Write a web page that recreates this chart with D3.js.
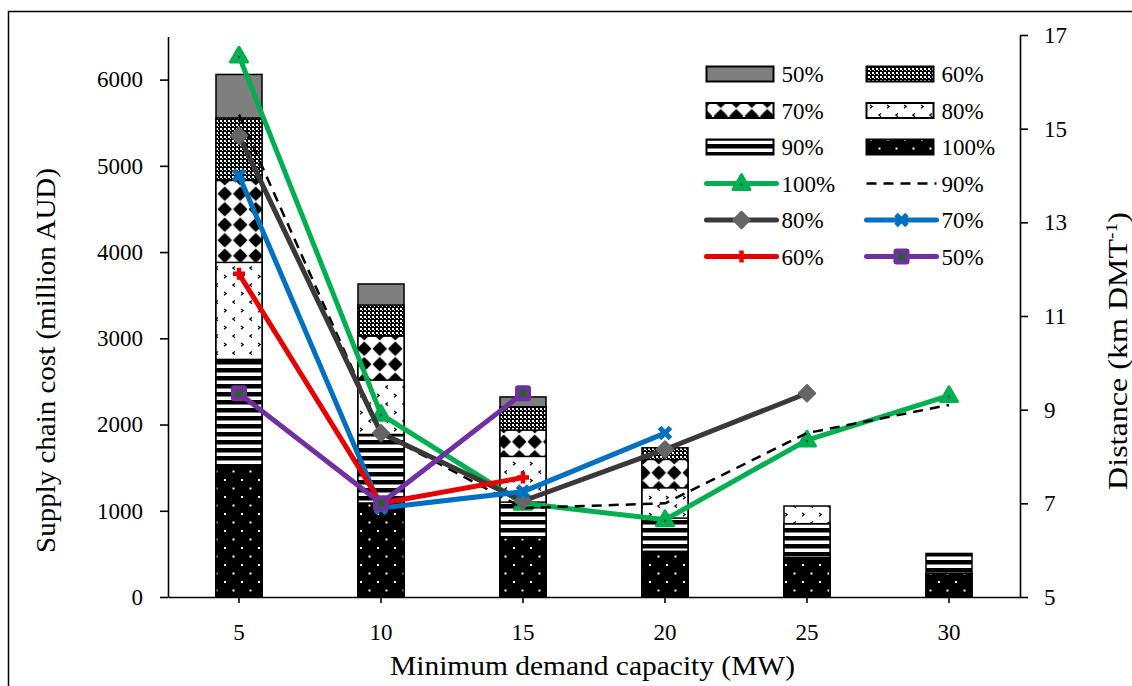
<!DOCTYPE html>
<html><head><meta charset="utf-8">
<script src="https://cdn.jsdelivr.net/npm/d3@7"></script>
<style>
body{margin:0;background:#fff}
svg{display:block}
text{font-family:"Liberation Serif","Times New Roman",serif;fill:#000}
</style>
</head><body>
<svg id="c" width="1132" height="686"></svg>
<script>
// ---- data ----
const capacities = [5, 10, 15, 20, 25, 30];
const scenarios = ["50%", "60%", "70%", "80%", "90%", "100%"];
// supply chain cost (million AUD), top of each scenario bar
const cost50  = [6060, 3630, 2320, null, null, null];
const cost60  = [5555, 3385, 2205, 1730, null, null];
const cost70  = [4830, 3025, 1935, 1595, null, null];
const cost80  = [3880, 2515, 1630, 1265, 1055, null];
const cost90  = [2755, 1885, 1100, 915, 850, 505];
const cost100 = [1490, 1090, 685, 530, 455, 275];
// distance (km DMT-1)
const dist100 = [16.55, 8.9, 7.0, 6.65, 8.35, 9.3];
const dist90  = [15.3, 8.5, 6.9, 7.0, 8.5, 9.1];
const dist80  = [14.85, 8.5, 7.05, 8.15, 9.35, null];
const dist70  = [14.0, 6.9, 7.25, 8.5, null, null];
const dist60  = [11.9, 7.0, 7.55, null, null, null];
const dist50  = [9.35, 7.0, 9.35, null, null, null];
const costTicks = [0, 1000, 2000, 3000, 4000, 5000, 6000];
const distTicks = [5, 7, 9, 11, 13, 15, 17];
const xTitle = "Minimum demand capacity (MW)";
const yTitle = "Supply chain cost (million AUD)";

const svg = d3.select("#c");
const W = 1132, H = 686;
const FONT = "Liberation Serif";

// ---- patterns ----
const defs = svg.append("defs");
function pat(id, w, h) {
  return defs.append("pattern").attr("id", id).attr("patternUnits", "userSpaceOnUse")
    .attr("width", w).attr("height", h);
}
// 60%: dense checker
let p = pat("p60", 4, 4);
p.append("rect").attr("width", 4).attr("height", 4).attr("fill", "#000");
p.append("rect").attr("x", 0).attr("y", 0).attr("width", 2).attr("height", 2).attr("fill", "#fff");
p.append("rect").attr("x", 2).attr("y", 2).attr("width", 1).attr("height", 1).attr("fill", "#fff");
// 70%: black blobs on white
p = pat("p70", 15.5, 15.5);
p.append("rect").attr("width", 15.5).attr("height", 15.5).attr("fill", "#fff");
p.append("circle").attr("cx", 7.75).attr("cy", 7.75).attr("r", 5.2).attr("fill", "#000");
p.append("path").attr("d", "M7.75,0.5L15,7.75L7.75,15L0.5,7.75Z").attr("fill", "#000");
// 80%: small marks on white
p = pat("p80", 17, 17);
p.append("rect").attr("width", 17).attr("height", 17).attr("fill", "#fff");
p.append("path").attr("d", "M3,3l2.2,1.6l-2.2,1.6").attr("fill", "none").attr("stroke", "#000").attr("stroke-width", 1.2);
p.append("path").attr("d", "M14,11.5l-2.2,1.6l2.2,1.6").attr("fill", "none").attr("stroke", "#000").attr("stroke-width", 1.2);
// 90%: horizontal stripes
p = pat("p90", 8, 8);
p.append("rect").attr("width", 8).attr("height", 8).attr("fill", "#fff");
p.append("rect").attr("y", 0).attr("width", 8).attr("height", 4.5).attr("fill", "#000");
// 100%: black with white dots
p = pat("p100", 17, 17);
p.append("rect").attr("width", 17).attr("height", 17).attr("fill", "#000");
p.append("rect").attr("x", 3).attr("y", 3).attr("width", 2).attr("height", 2).attr("fill", "#fff");
p.append("rect").attr("x", 11.5).attr("y", 11.5).attr("width", 2).attr("height", 2).attr("fill", "#fff");

const barFills = {"50%": "#7f7f7f", "60%": "url(#p60)", "70%": "url(#p70)", "80%": "url(#p80)", "90%": "url(#p90)", "100%": "url(#p100)"};
const costSeries = {"50%": cost50, "60%": cost60, "70%": cost70, "80%": cost80, "90%": cost90, "100%": cost100};

// ---- frame ----
svg.append("rect").attr("x", 8.5).attr("y", 11.5).attr("width", W + 20).attr("height", H + 20)
  .attr("fill", "none").attr("stroke", "#000").attr("stroke-width", 1.5);

// ---- scales ----
const x = d3.scaleBand().domain(capacities).range([168, 1020]).paddingInner(0.676).paddingOuter(0.338);
const cx = c => x(c) + x.bandwidth() / 2;
const yL = d3.scaleLinear().domain([0, 6500]).range([597, 36.5]);
const yR = d3.scaleLinear().domain([5, 17]).range([597, 35]);

// ---- bars ----
const gBars = svg.append("g");
scenarios.forEach(s => {
  const vals = costSeries[s];
  gBars.selectAll(null).data(capacities.map((c, i) => ({c, v: vals[i]})).filter(d => d.v != null))
    .enter().append("rect")
    .attr("x", d => x(d.c)).attr("y", d => yL(d.v))
    .attr("width", x.bandwidth()).attr("height", d => yL(0) - yL(d.v))
    .attr("fill", barFills[s]).attr("stroke", "#000").attr("stroke-width", 1.5);
});

// ---- axes ----
function styleAxis(g) {
  g.attr("font-family", FONT).attr("font-size", 23);
  g.selectAll("path,line").attr("stroke", "#000").attr("stroke-width", 1.6);
  g.selectAll("text").attr("font-size", 23).attr("font-family", FONT).attr("fill", "#000");
}
const fmt = d3.format("d");
svg.append("g").attr("transform", "translate(0,597)")
  .call(d3.axisBottom(x).tickSize(6).tickSizeOuter(0).tickPadding(21)).call(styleAxis);
svg.append("g").attr("transform", "translate(168,0)")
  .call(d3.axisLeft(yL).tickValues(costTicks).tickFormat(fmt).tickSize(8).tickSizeOuter(0).tickPadding(17)).call(styleAxis);
svg.append("g").attr("transform", "translate(1020,0)")
  .call(d3.axisRight(yR).tickValues(distTicks).tickFormat(fmt).tickSize(8).tickSizeOuter(0).tickPadding(16)).call(styleAxis);

// ---- markers ----
function marker(g, type, px, py) {
  const m = g.append("g").attr("transform", `translate(${px},${py})`);
  if (type === "tri") {
    m.append("path").attr("d", d3.symbol(d3.symbolTriangle, 125)()).attr("transform", "translate(0,1)")
      .attr("fill", "#00b050").attr("stroke", "#00b050").attr("stroke-width", 3).attr("stroke-linejoin", "round");
    m.append("rect").attr("x", -1).attr("y", 0).attr("width", 2).attr("height", 2).attr("fill", "#1f3a7a");
  } else if (type === "dia") {
    m.append("rect").attr("x", -5.8).attr("y", -5.8).attr("width", 11.6).attr("height", 11.6).attr("transform", "rotate(45)")
      .attr("fill", "#656565").attr("stroke", "#656565").attr("stroke-width", 2).attr("stroke-linejoin", "round");
  } else if (type === "x") {
    m.append("path").attr("d", "M-5.5,-5.5L5.5,5.5M-5.5,5.5L5.5,-5.5").attr("stroke", "#0070c0").attr("stroke-width", 5).attr("fill", "none");
  } else if (type === "plus") {
    m.append("path").attr("d", "M-6,0L6,0M0,-6L0,6").attr("stroke", "#e60000").attr("stroke-width", 4.5).attr("fill", "none");
  } else if (type === "sq") {
    m.append("rect").attr("x", -8).attr("y", -8).attr("width", 16).attr("height", 16).attr("rx", 3)
      .attr("fill", "#7030a0");
    m.append("rect").attr("x", -3.5).attr("y", -3.5).attr("width", 7).attr("height", 7).attr("fill", "#2e5e2e");
  }
}

// ---- lines ----
const lineSeries = [
  {name: "100%", vals: dist100, color: "#00b050", w: 5, dash: null, mk: "tri"},
  {name: "90%",  vals: dist90,  color: "#000000", w: 2.5, dash: "10,7", mk: null},
  {name: "80%",  vals: dist80,  color: "#3b3838", w: 5, dash: null, mk: "dia"},
  {name: "70%",  vals: dist70,  color: "#0070c0", w: 5, dash: null, mk: "x"},
  {name: "60%",  vals: dist60,  color: "#e60000", w: 5, dash: null, mk: "plus"},
  {name: "50%",  vals: dist50,  color: "#7030a0", w: 5, dash: null, mk: "sq"}
];
const line = d3.line().defined(d => d.v != null).x(d => cx(d.c)).y(d => yR(d.v));
const gLines = svg.append("g");
lineSeries.forEach(s => {
  const pts = capacities.map((c, i) => ({c, v: s.vals[i]}));
  gLines.append("path").datum(pts).attr("d", line).attr("fill", "none")
    .attr("stroke", s.color).attr("stroke-width", s.w).attr("stroke-linejoin", "round")
    .attr("stroke-linecap", s.dash ? "butt" : "round")
    .attr("stroke-dasharray", s.dash);
  if (s.mk) pts.filter(d => d.v != null).forEach(d => marker(gLines, s.mk, cx(d.c), yR(d.v)));
});

// ---- legend ----
const legend = svg.append("g").attr("font-family", FONT);
const colX = [706.5, 866.5];
const rowY = i => 74 + i * 36.5;
const barOrder = ["50%", "60%", "70%", "80%", "90%", "100%"];
barOrder.forEach((s, i) => {
  const col = i % 2, row = Math.floor(i / 2);
  const lx = colX[col], ly = rowY(row);
  legend.append("rect").attr("x", lx).attr("y", ly - 7.5).attr("width", 67).attr("height", 15)
    .attr("fill", barFills[s]).attr("stroke", "#000").attr("stroke-width", 2);
  legend.append("text").attr("x", lx + 75).attr("y", ly + 8).attr("font-size", 23).attr("font-family", FONT).text(s);
});
lineSeries.forEach((s, i) => {
  const col = i % 2, row = 3 + Math.floor(i / 2);
  const lx = colX[col], ly = rowY(row);
  legend.append("line").attr("x1", lx).attr("x2", lx + 70).attr("y1", ly).attr("y2", ly)
    .attr("stroke", s.color).attr("stroke-width", s.w)
    .attr("stroke-linecap", s.dash ? "butt" : "round").attr("stroke-dasharray", s.dash);
  if (s.mk) marker(legend, s.mk, lx + 35, ly);
  legend.append("text").attr("x", lx + 75).attr("y", ly + 8).attr("font-size", 23).attr("font-family", FONT).text(s.name);
});

// ---- titles ----
function fitTitle(t, target, base) {
  const len = t.node().getComputedTextLength();
  t.attr("transform", base + ` scale(${target / len},1)`);
}
let t = svg.append("text").attr("text-anchor", "middle").attr("font-size", 26.5).attr("font-family", FONT).text(xTitle);
fitTitle(t, 405, "translate(592.5,675)");
t = svg.append("text").attr("text-anchor", "middle").attr("font-size", 26.5).attr("font-family", FONT).text(yTitle);
fitTitle(t, 385, "translate(55,360.5) rotate(-90)");
t = svg.append("text").attr("text-anchor", "middle").attr("font-size", 26.5).attr("font-family", FONT);
t.append("tspan").text("Distance (km DMT");
t.append("tspan").attr("font-size", 16).attr("dy", -10).text("-1");
t.append("tspan").attr("dy", 10).text(")");
fitTitle(t, 278, "translate(1127,351) rotate(-90)");
</script>
</body></html>
